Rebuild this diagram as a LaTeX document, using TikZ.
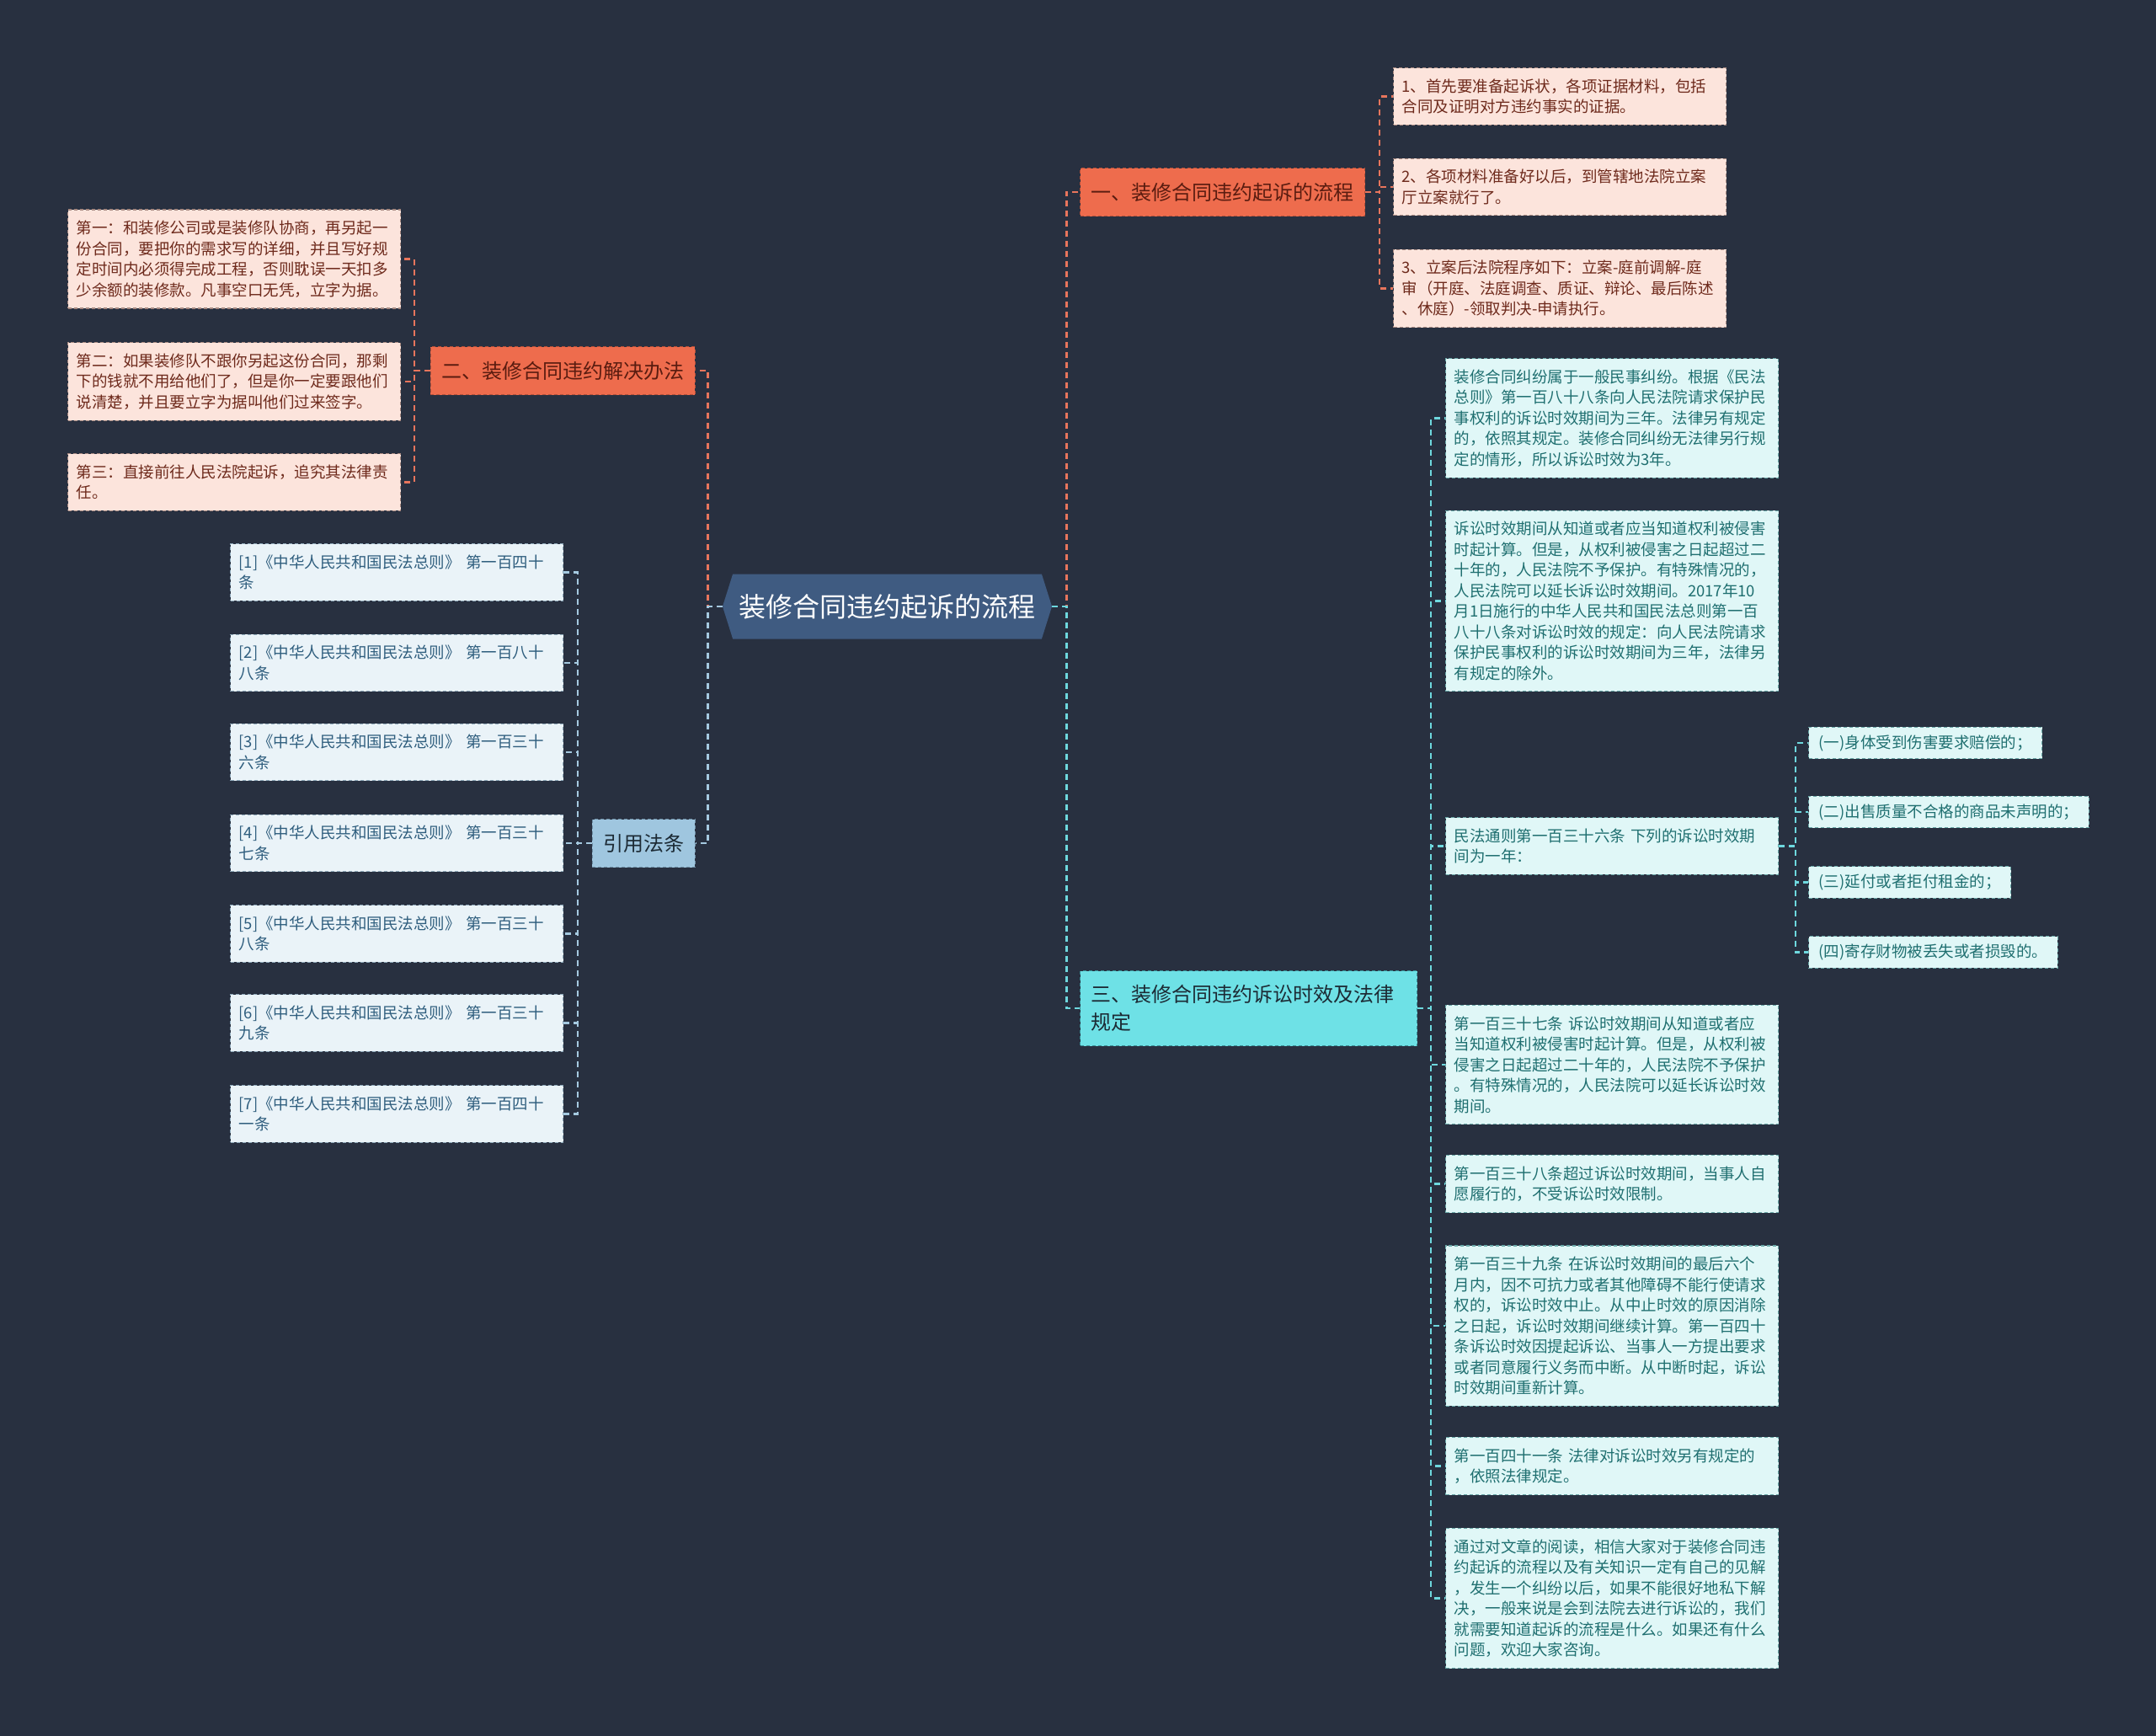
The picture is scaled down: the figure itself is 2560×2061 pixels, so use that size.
\documentclass[tikz,border=0pt]{standalone}
\usepackage{fontspec}
\setmainfont{Noto Sans CJK SC}
\usetikzlibrary{shapes.symbols}
\definecolor{bgdark}{HTML}{283040}
\definecolor{rootblue}{HTML}{3F5B81}
\definecolor{orangebr}{HTML}{EE6C4D}
\definecolor{orangeln}{HTML}{E8755C}
\definecolor{orangebd}{HTML}{B4503A}
\definecolor{orangetx}{HTML}{5A1C10}
\definecolor{pinkbox}{HTML}{FCE4DC}
\definecolor{pinkbd}{HTML}{A88A82}
\definecolor{pinktx}{HTML}{6E2A1C}
\definecolor{citebr}{HTML}{9FC6DF}
\definecolor{citeln}{HTML}{A5C9E0}
\definecolor{citebd}{HTML}{6F8FA5}
\definecolor{citebox}{HTML}{EAF3F8}
\definecolor{citeboxbd}{HTML}{8FA9BA}
\definecolor{citetx}{HTML}{2F5E7E}
\definecolor{cyanbr}{HTML}{6EE1E6}
\definecolor{cyanln}{HTML}{6ED8DE}
\definecolor{cyanbd}{HTML}{3A8F96}
\definecolor{cyanbox}{HTML}{E0F7F7}
\definecolor{cyanboxbd}{HTML}{6AA8A8}
\definecolor{cyantx}{HTML}{1F6F70}
\definecolor{darktx}{HTML}{1C2A34}
\begin{document}
\begin{tikzpicture}[x=0.5pt,y=-0.5pt,
  rootnode/.style={signal,signal to=east and west,signal pointer angle=145,fill=rootblue,text=white,
    minimum height=38.5pt,inner xsep=3.7pt,inner ysep=0pt,font=\fontsize{16pt}{19pt}\selectfont},
  branch/.style={draw,line width=0.6pt,dash pattern=on 2pt off 1.5pt,align=left,inner xsep=6.5pt,
    minimum height=28.5pt,font=\fontsize{12pt}{16.5pt}\selectfont},
  leafbox/.style={draw,line width=0.6pt,dash pattern=on 2pt off 1.5pt,align=left,inner xsep=5pt,
    inner ysep=6.5pt,font=\fontsize{9.25pt}{12.25pt}\selectfont},
  leaf/.style={leafbox,text width=187.5pt},
  pinkleaf/.style={leaf,fill=pinkbox,draw=pinkbd,text=pinktx},
  citeleaf/.style={leaf,fill=citebox,draw=citeboxbd,text=citetx},
  cyanleaf/.style={leaf,fill=cyanbox,draw=cyanboxbd,text=cyantx},
  link/.style={line width=1.2pt,dash pattern=on 3.5pt off 2.5pt}]
\fill[bgdark] (0,0) rectangle (2560,2061);

\node[rootnode] (root) at (1053.5,720) {装修合同违约起诉的流程};

\node[branch,fill=orangebr,draw=orangebd,text=orangetx,anchor=west] (b1) at (1282,228) {一、装修合同违约起诉的流程};
\node[branch,fill=orangebr,draw=orangebd,text=orangetx,anchor=east] (b2) at (826,440) {二、装修合同违约解决办法};
\node[branch,fill=cyanbr,draw=cyanbd,text=darktx,anchor=west,text width=187pt,minimum height=44.5pt] (b3) at (1282,1197) {三、装修合同违约诉讼时效及法律\\规定};
\node[branch,fill=citebr,draw=citebd,text=darktx,anchor=east] (b4) at (826,1001) {引用法条};

\node[pinkleaf,anchor=west] (c1) at (1654,114.5) {1、首先要准备起诉状，各项证据材料，包括\\合同及证明对方违约事实的证据。};
\node[pinkleaf,anchor=west] (c2) at (1654,222) {2、各项材料准备好以后，到管辖地法院立案\\厅立案就行了。};
\node[pinkleaf,anchor=west] (c3) at (1654,342.5) {3、立案后法院程序如下：立案-庭前调解-庭\\审（开庭、法庭调查、质证、辩论、最后陈述\\、休庭）-领取判决-申请执行。};

\node[pinkleaf,anchor=west] (d1) at (80,307.5) {第一：和装修公司或是装修队协商，再另起一\\份合同，要把你的需求写的详细，并且写好规\\定时间内必须得完成工程，否则耽误一天扣多\\少余额的装修款。凡事空口无凭，立字为据。};
\node[pinkleaf,anchor=west] (d2) at (80,453) {第二：如果装修队不跟你另起这份合同，那剩\\下的钱就不用给他们了，但是你一定要跟他们\\说清楚，并且要立字为据叫他们过来签字。};
\node[pinkleaf,anchor=west] (d3) at (80,572.5) {第三：直接前往人民法院起诉，追究其法律责\\任。};

\foreach \i/\y/\a/\b in {1/679.5/第一百四十/条,2/787/第一百八十/八条,3/893/第一百三十/六条,
    4/1001/第一百三十/七条,5/1108.5/第一百三十/八条,6/1214.5/第一百三十/九条,7/1322.5/第一百四十/一条}
  \node[citeleaf,anchor=west] (e\i) at (273,\y) {[\i]《中华人民共和国民法总则》~\a\\\b};

\node[cyanleaf,anchor=west] (f1) at (1716,496.5) {装修合同纠纷属于一般民事纠纷。根据《民法\\总则》第一百八十八条向人民法院请求保护民\\事权利的诉讼时效期间为三年。法律另有规定\\的，依照其规定。装修合同纠纷无法律另行规\\定的情形，所以诉讼时效为3年。};
\node[cyanleaf,anchor=west] (f2) at (1716,713.5) {诉讼时效期间从知道或者应当知道权利被侵害\\时起计算。但是，从权利被侵害之日起超过二\\十年的，人民法院不予保护。有特殊情况的，\\人民法院可以延长诉讼时效期间。2017年10\\月1日施行的中华人民共和国民法总则第一百\\八十八条对诉讼时效的规定：向人民法院请求\\保护民事权利的诉讼时效期间为三年，法律另\\有规定的除外。};
\node[cyanleaf,anchor=west] (f3) at (1716,1004.5) {民法通则第一百三十六条~下列的诉讼时效期\\间为一年：};
\node[cyanleaf,anchor=west] (f4) at (1716,1264) {第一百三十七条~诉讼时效期间从知道或者应\\当知道权利被侵害时起计算。但是，从权利被\\侵害之日起超过二十年的，人民法院不予保护\\。有特殊情况的，人民法院可以延长诉讼时效\\期间。};
\node[cyanleaf,anchor=west] (f5) at (1716,1405.5) {第一百三十八条超过诉讼时效期间，当事人自\\愿履行的，不受诉讼时效限制。};
\node[cyanleaf,anchor=west] (f6) at (1716,1574) {第一百三十九条~在诉讼时效期间的最后六个\\月内，因不可抗力或者其他障碍不能行使请求\\权的，诉讼时效中止。从中止时效的原因消除\\之日起，诉讼时效期间继续计算。第一百四十\\条诉讼时效因提起诉讼、当事人一方提出要求\\或者同意履行义务而中断。从中断时起，诉讼\\时效期间重新计算。};
\node[cyanleaf,anchor=west] (f7) at (1716,1740.5) {第一百四十一条~法律对诉讼时效另有规定的\\，依照法律规定。};
\node[cyanleaf,anchor=west] (f8) at (1716,1897.5) {通过对文章的阅读，相信大家对于装修合同违\\约起诉的流程以及有关知识一定有自己的见解\\，发生一个纠纷以后，如果不能很好地私下解\\决，一般来说是会到法院去进行诉讼的，我们\\就需要知道起诉的流程是什么。如果还有什么\\问题，欢迎大家咨询。};

\foreach \i/\y/\t in {1/882/(一)身体受到伤害要求赔偿的；,2/964/(二)出售质量不合格的商品未声明的；,
    3/1047.5/(三)延付或者拒付租金的；,4/1130.5/(四)寄存财物被丢失或者损毁的。}
  \node[leafbox,fill=cyanbox,draw=cyanboxbd,text=cyantx,inner xsep=6pt,inner ysep=4.5pt,anchor=west] (g\i) at (2147,\y) {\t};

\draw[link,draw=orangeln] (root.east) -- ++(17,0) |- (b1.west);
\draw[link,draw=cyanln] (root.east) -- ++(17,0) |- (b3.west);
\draw[link,draw=orangeln] (root.west) -- ++(-17,0) |- (b2.east);
\draw[link,draw=citeln] (root.west) -- ++(-17,0) |- (b4.east);
\foreach \c in {c1,c2,c3}
  \draw[link,draw=orangeln] (b1.east) -- ++(17,0) |- (\c.west);
\foreach \d in {d1,d2,d3}
  \draw[link,draw=orangeln] (b2.west) -- ++(-19,0) |- (\d.east);
\foreach \i in {1,...,7}
  \draw[link,draw=citeln] (b4.west) -- ++(-17,0) |- (e\i.east);
\foreach \i in {1,...,8}
  \draw[link,draw=cyanln] (b3.east) -- ++(16,0) |- (f\i.west);
\foreach \i in {1,...,4}
  \draw[link,draw=cyanln] (f3.east) -- ++(20,0) |- (g\i.west);
\end{tikzpicture}
\end{document}
